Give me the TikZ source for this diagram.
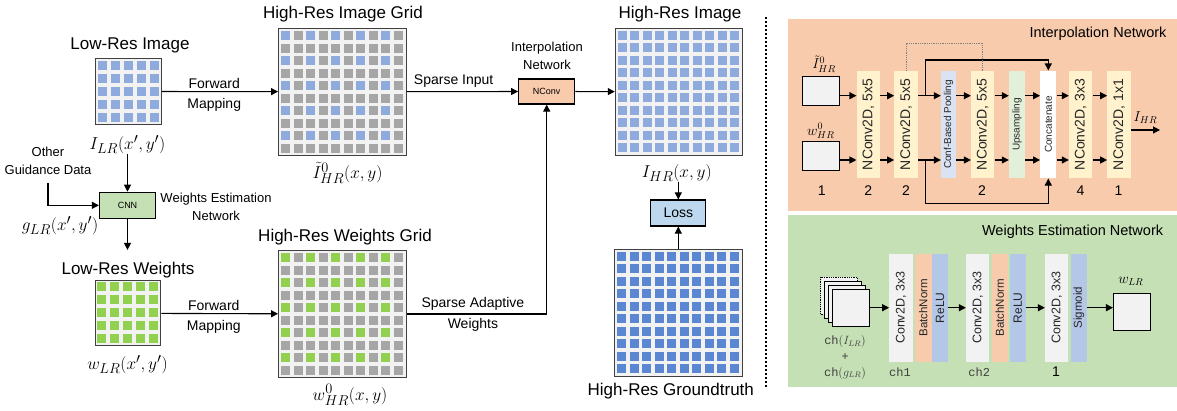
\documentclass[tikz,border=0pt]{standalone}
\usepackage{fontspec}
\usepackage{graphicx}
\setmainfont{Liberation Sans}
\setmonofont{Liberation Mono}
\usetikzlibrary{arrows.meta, positioning, calc}

\definecolor{pixbg}{HTML}{F2F2F2}
\definecolor{cellblue}{HTML}{8FAADC}
\definecolor{cellgray}{HTML}{A6A6A6}
\definecolor{cellgreen}{HTML}{92D050}
\definecolor{celldark}{HTML}{5A86D2}
\definecolor{orangebg}{HTML}{F8CBAD}
\definecolor{greenbg}{HTML}{C5E0B4}
\definecolor{lossfill}{HTML}{BDD7EE}
\definecolor{nconvfill}{HTML}{FFF2CC}
\definecolor{poolfill}{HTML}{DAE3F3}
\definecolor{upfill}{HTML}{E2F0D9}
\definecolor{convfill}{HTML}{F2F2F2}
\definecolor{bnfill}{HTML}{F8CBAD}
\definecolor{relufill}{HTML}{B4C7E7}

% cells of a grid node: #1 node, #2 last index, #3 pad, #4 pitch, #5 on, #6 off
\newcommand{\pixcells}[6]{%
  \foreach \i in {0,...,#2}{
    \foreach \j in {0,...,#2}{
      \pgfmathtruncatemacro{\cellon}{(mod(\i,2)==0)&&(mod(\j,2)==0)}
      \ifnum\cellon=1 \colorlet{cellc}{#5}\else\colorlet{cellc}{#6}\fi
      \fill[cellc] ([shift={(#3+\i*#4,#3+\j*#4)}]#1.north west) rectangle ++(9,9);
    }
  }
}
\newcommand{\vt}[1]{\rotatebox{90}{#1}}

\tikzset{ pix/.style = { draw = black!75
                       , fill = pixbg
                       , line width = 0.9pt
                       , inner sep = 0pt
                       },
          fa/.style = { inner sep = 0pt
                      , font = \fontsize{17}{20}\selectfont
                      },
          fb/.style = { inner sep = 0pt
                      , font = \fontsize{14}{17}\selectfont
                      },
          fc/.style = { inner sep = 0pt
                      , align = center
                      , font = \fontsize{13}{17.5}\selectfont
                      },
          ml/.style = { inner sep = 0pt
                      , font = \fontsize{19}{22}\selectfont
                      },
          ms/.style = { inner sep = 0pt
                      , font = \fontsize{14}{17}\selectfont
                      },
          tag/.style = { draw
                       , line width = 1.2pt
                       , inner sep = 0pt
                       , minimum width = 56pt
                       , minimum height = 26pt
                       , font = \fontsize{9}{11}\selectfont
                       },
          sq/.style = { draw
                      , fill = pixbg
                      , line width = 0.8pt
                      , inner sep = 0pt
                      },
          blk/.style = { inner sep = 0pt
                       , minimum width = 23.3pt
                       , text = black!85
                       },
          thin blk/.style = { inner sep = 0pt
                            , minimum width = 16pt
                            , text = black!85
                            },
          arr/.style = { line width = 1.1pt
                       , -{Triangle[length=7pt, width=7pt]}
                       }
        }

\begin{document}
\begin{tikzpicture}[x=1pt, y=-1pt]
\useasboundingbox (0,0) rectangle (1177,410);

% low resolution side
\node[pix, minimum size=66pt] (lrimg) at (128.5,91.5) {};
\pixcells{lrimg}{4}{2.5}{13}{cellblue}{cellblue}
\node[fa] (lrimgttl) at (130,45.5) {Low-Res Image};
\node[ml] (lrimglbl) at (127.5,144.5) {$I_{LR}(x',y')$};
\node[tag, fill=greenbg] (cnn) at (127.5,205.3) {CNN};
\node[fc] (guide) at (48,161) {Other\\Guidance Data};
\coordinate (guidefoot) at (48,183);
\node[ml] (glbl) at (60,225.5) {$g_{LR}(x',y')$};
\node[fc] (westlbl) at (216,207) {Weights Estimation\\Network};
\node[fa] (lrwttl) at (128,270) {Low-Res Weights};
\node[pix, minimum size=65pt] (lrw) at (128.3,313.3) {};
\pixcells{lrw}{4}{2}{13}{cellgreen}{cellgreen}
\node[ml] (lrwlbl) at (127.5,365) {$w_{LR}(x',y')$};

\draw[arr] (lrimglbl.south -| cnn.north) -- (cnn.north);
\draw[arr] (guidefoot) |- (cnn.west);
\draw[arr] (cnn.south) -- ([yshift=12pt]cnn.south |- lrwttl.north);

% high resolution grids
\node[pix, minimum width=128pt, minimum height=127pt] (hrimg) at (342.5,91.7) {};
\pixcells{hrimg}{9}{3.25}{12.5}{cellblue}{cellgray}
\node[fa] (hrimgttl) at (343,14.5) {High-Res Image Grid};
\node[ml] (hrimglbl) at (347.5,173) {${\tilde{I}}^{0}_{HR}(x,y)$};
\node[pix, minimum width=128pt, minimum height=127pt] (hrw) at (342.5,314) {};
\pixcells{hrw}{9}{3.25}{12.5}{cellgreen}{cellgray}
\node[fa] (hrwttl) at (345,237.5) {High-Res Weights Grid};
\node[ml] (hrwlbl) at (350,395) {$w^{0}_{HR}(x,y)$};

\draw[arr] (lrimg) -- (hrimg)
  node[fb, above=2.5pt, pos=0.45] {Forward}
  node[fb, below=6pt, pos=0.45] {Mapping};
\draw[arr] (lrw) -- (hrw)
  node[fb, above=2.5pt, pos=0.45] {Forward}
  node[fb, below=6pt, pos=0.45] {Mapping};

% interpolation
\node[fc] (interplbl) at (547,56) {Interpolation\\Network};
\node[tag, fill=orangebg, minimum height=25pt] (nconv) at (546.7,91.5) {NConv};
\draw[arr] (hrimg) -- (nconv) node[fb, above=3.7pt, pos=0.42] {Sparse Input};
\draw[arr] (hrw) -| (nconv)
  node[fb, above=3.3pt, pos=0.236] {Sparse Adaptive}
  node[fb, below=3.4pt, pos=0.236] {Weights};

\node[pix, minimum width=127pt, minimum height=127pt] (hrout) at (678.7,91.7) {};
\pixcells{hrout}{9}{3}{12.5}{cellblue}{cellblue}
\node[fa] (hroutttl) at (680,14.5) {High-Res Image};
\node[ml] (hroutlbl) at (676.7,173) {$I_{HR}(x,y)$};
\draw[arr] (nconv) -- (hrout);

\node[tag, fill=lossfill, minimum width=55pt, font=\fontsize{14}{17}\selectfont] (loss) at (678.3,213) {Loss};
\node[pix, minimum width=128pt, minimum height=127pt] (gt) at (678.8,312.7) {};
\pixcells{gt}{9}{3}{12.5}{celldark}{celldark}
\node[fa] (gtttl) at (670.8,391.5) {High-Res Groundtruth};
\draw[arr] (hroutlbl.south -| loss.north) -- (loss.north);
\draw[arr] (gt.north -| loss.south) -- (loss.south);

\draw[line width=2pt, dash pattern=on 2pt off 2pt] (766,17) -- (766,387);

% interpolation network panel
\fill[orangebg] (788.3,19) rectangle (1177,211);
\node[fb, font=\fontsize{14.5}{17}\selectfont, anchor=east] (interpttl) at (1166.7,34) {Interpolation Network};
\node[sq, minimum width=36.7pt, minimum height=28.3pt] (in1) at (821,90.8) {};
\node[sq, minimum width=36.7pt, minimum height=28.3pt] (in2) at (821,155.8) {};
\node[ms] (in1lbl) at (824,64) {${\tilde{I}}^{0}_{HR}$};
\node[ms] (in2lbl) at (820.8,131) {$w^{0}_{HR}$};
\node[fb] (in1num) at (821.7,191) {1};

\node[blk, fill=nconvfill, minimum height=107.7pt, font=\fontsize{14}{17}\selectfont] (b1) at (868.3,124.5) {\vt{NConv2D, 5x5}};
\node[blk, fill=nconvfill, minimum height=107.7pt, font=\fontsize{14}{17}\selectfont] (b2) at (906,124.5) {\vt{NConv2D, 5x5}};
\node[thin blk, fill=poolfill, minimum width=15pt, minimum height=107.7pt, font=\fontsize{10}{12}\selectfont] (pool) at (948.5,124.5) {\vt{Conf-Based Pooling}};
\node[blk, fill=nconvfill, minimum height=107.7pt, font=\fontsize{14}{17}\selectfont] (b3) at (982.7,124.5) {\vt{NConv2D, 5x5}};
\node[thin blk, fill=upfill, minimum height=107.7pt, font=\fontsize{10}{12}\selectfont] (up) at (1017,124.5) {\vt{Upsampling}};
\node[thin blk, fill=white, minimum height=107.7pt, font=\fontsize{10}{12}\selectfont] (cat) at (1048.3,124.5) {\vt{Concatenate}};
\node[blk, fill=nconvfill, minimum height=107.7pt, font=\fontsize{14}{17}\selectfont] (b4) at (1080.7,124.5) {\vt{NConv2D, 3x3}};
\node[blk, fill=nconvfill, minimum height=107.7pt, font=\fontsize{14}{17}\selectfont] (b5) at (1119,124.5) {\vt{NConv2D, 1x1}};
\node[fb] (b1num) at (868.3,191) {2};
\node[fb] (b2num) at (906,191) {2};
\node[fb] (b3num) at (982,191) {2};
\node[fb] (b4num) at (1080.5,191) {4};
\node[fb] (b5num) at (1118.5,191) {1};

\coordinate (ra) at (0,95.7);
\coordinate (rb) at (0,160);
\foreach \a/\b in {in1/b1, b1/b2, b2/pool, pool/b3, b3/up, up/cat, cat/b4, b4/b5} {
  \draw[arr] (\a.east |- ra) -- (\b.west |- ra);
  \draw[arr] (\a.east |- rb) -- (\b.west |- rb);
}
\coordinate (skipa) at (925.7,60);
\coordinate (skipb) at (925.7,203.3);
\draw[arr] (skipa |- ra) -- (skipa) -| (cat.north);
\draw[arr] (skipb |- rb) -- (skipb) -| (cat.south);
\draw[gray, densely dotted, line width=0.8pt] (b2.north) -- ++(0,-27.4) -| (b3.north);
\coordinate (iout) at (1160,130);
\draw[arr] (b5.east |- iout) -- (iout) node[ms, midway, above=6pt] {$I_{HR}$};

% weights estimation network panel
\fill[greenbg] (788.3,214.5) rectangle (1177,386.7);
\node[fb, font=\fontsize{14.5}{17}\selectfont, anchor=east] (westttl) at (1163.3,232) {Weights Estimation Network};
\foreach \k/\st in {12/densely dotted, 8/solid, 4/solid}
  \node[sq, minimum size=36.7pt, \st] (chst\k) at (851-\k,307.7-\k) {};
\node[sq, minimum size=36.7pt] (chin) at (851,307.7) {};
\node[inner sep=0pt, align=center, text=black!75, font=\fontsize{12}{15.6}\selectfont] (chlbl) at (845,357.5) {\texttt{ch}$(I_{LR})$\\+\\\texttt{ch}$(g_{LR})$};

\node[blk, fill=convfill, minimum height=107.7pt, font=\fontsize{12.5}{15}\selectfont] (c1) at (901,307.8) {\vt{Conv2D, 3x3}};
\node[thin blk, fill=bnfill, minimum width=16.7pt, minimum height=107.7pt, font=\fontsize{11.5}{14}\selectfont] (bn1) at (923.3,307.8) {\vt{BatchNorm}};
\node[thin blk, fill=relufill, minimum width=15.3pt, minimum height=107.7pt, font=\fontsize{12}{14}\selectfont] (r1) at (940,307.8) {\vt{ReLU}};
\node[blk, fill=convfill, minimum height=107.7pt, font=\fontsize{12.5}{15}\selectfont] (c2) at (977.7,307.8) {\vt{Conv2D, 3x3}};
\node[thin blk, fill=bnfill, minimum width=15.7pt, minimum height=107.7pt, font=\fontsize{11.5}{14}\selectfont] (bn2) at (999.8,307.8) {\vt{BatchNorm}};
\node[thin blk, fill=relufill, minimum width=15.7pt, minimum height=107.7pt, font=\fontsize{12}{14}\selectfont] (r2) at (1017.8,307.8) {\vt{ReLU}};
\node[blk, fill=convfill, minimum height=107.7pt, font=\fontsize{12.5}{15}\selectfont] (c3) at (1056.7,307.8) {\vt{Conv2D, 3x3}};
\node[thin blk, fill=relufill, minimum width=15.7pt, minimum height=107.7pt, font=\fontsize{11.5}{14}\selectfont] (sg) at (1078.8,307.8) {\vt{Sigmoid}};
\node[sq, minimum size=36.7pt] (wout) at (1131.7,311.7) {};
\node[ms] (woutlbl) at (1130.8,281) {$w_{LR}$};
\node[inner sep=0pt, text=black!75, font=\fontsize{12}{15}\selectfont] (ch1) at (900,372.5) {\texttt{ch1}};
\node[inner sep=0pt, text=black!75, font=\fontsize{12}{15}\selectfont] (ch2) at (979.2,372.5) {\texttt{ch2}};
\node[fb] (c3num) at (1056,371.7) {1};

\coordinate (rc) at (0,307.7);
\foreach \a/\b in {chin/c1, r1/c2, r2/c3, sg/wout}
  \draw[arr] (\a.east |- rc) -- (\b.west |- rc);
\end{tikzpicture}
\end{document}
